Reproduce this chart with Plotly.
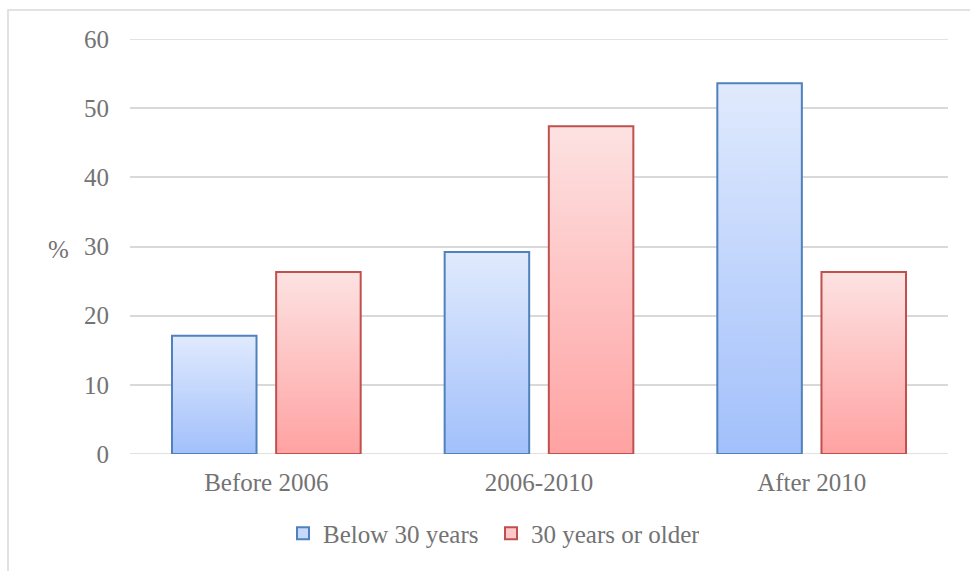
import plotly.graph_objects as go

categories = ["Before 2006", "2006-2010", "After 2010"]
series_names = ["Below 30 years", "30 years or older"]
below_30 = [17.1, 29.2, 53.6]
older_30 = [26.3, 47.4, 26.3]
y_ticks = [0, 10, 20, 30, 40, 50, 60]

FONT = "Liberation Serif"
FS = 25
TXT = "#737373"
GRID = "#d9d9d9"

styles = [
    dict(top="#e0eafd", bottom="#a2c0fb", line="#4f81bd", legend="#c6d8fb"),
    dict(top="#fde2e2", bottom="#ffa2a2", line="#c0504d", legend="#ffc8c8"),
]
BAR_W = 0.31
GAP = 0.072
offsets = [-(BAR_W + GAP) / 2, (BAR_W + GAP) / 2]

fig = go.Figure()
for s, (name, vals) in enumerate(zip(series_names, [below_30, older_30])):
    st = styles[s]
    for i, v in enumerate(vals):
        c = i + offsets[s]
        x0, x1 = c - BAR_W / 2, c + BAR_W / 2
        fig.add_trace(go.Scatter(
            x=[x0, x0, x1, x1, x0], y=[0, v, v, 0, 0],
            mode="lines", fill="toself",
            line=dict(color=st["line"], width=2),
            fillgradient=dict(type="vertical", start=0, stop=v,
                              colorscale=[[0, st["bottom"]], [1, st["top"]]]),
            showlegend=False, hoverinfo="skip",
        ))
    fig.add_trace(go.Bar(
        x=[None], y=[None], name=name,
        marker=dict(color=st["legend"], line=dict(color=st["line"], width=2)),
    ))

fig.update_layout(
    width=970, height=571,
    margin=dict(l=130, r=22, t=39, b=117, autoexpand=False),
    paper_bgcolor="white", plot_bgcolor="white",
    font=dict(family=FONT, size=FS, color=TXT),
    showlegend=True,
    legend=dict(orientation="h", x=(283 - 130) / 818, xanchor="left", y=-0.136, yanchor="top",
                font=dict(family=FONT, size=FS, color=TXT), itemwidth=30,
                entrywidth=163, traceorder="normal"),
    xaxis=dict(range=[-0.5, 2.5], tickvals=list(range(len(categories))), ticktext=categories,
               showgrid=False, zeroline=False, showline=False, ticks="outside", ticklen=6,
               tickcolor="rgba(0,0,0,0)", automargin=False,
               tickfont=dict(family=FONT, size=FS, color=TXT), fixedrange=True),
    yaxis=dict(range=[0, 60], tickvals=y_ticks, showgrid=True, gridcolor=GRID, gridwidth=1.5,
               zeroline=False, showline=False, ticks="outside", ticklen=15, tickcolor="rgba(0,0,0,0)",
               automargin=False,
               tickfont=dict(family=FONT, size=FS, color=TXT), fixedrange=True),
    shapes=[dict(type="line", xref="x", yref="y", x0=-0.5, x1=2.5, y0=y_ticks[0], y1=y_ticks[0],
                 line=dict(color=GRID, width=1.5), layer="below"),
            dict(type="line", xref="x", yref="y", x0=-0.5, x1=2.5, y0=y_ticks[-1], y1=y_ticks[-1],
                 line=dict(color=GRID, width=1.5), layer="below"),
            dict(type="rect", xref="paper", yref="paper",
                 x0=(8 - 130) / 818, x1=1.2, y0=-0.5, y1=(454.5 - 10) / 415.5,
                 line=dict(color=GRID, width=1.5), layer="below")],
    annotations=[dict(text="%", xref="paper", yref="paper", x=(58 - 130) / 818, y=(454.5 - 250) / 415.5,
                      showarrow=False, xanchor="center", yanchor="middle",
                      font=dict(family=FONT, size=FS, color=TXT))],
)

fig.write_html("out.html")
